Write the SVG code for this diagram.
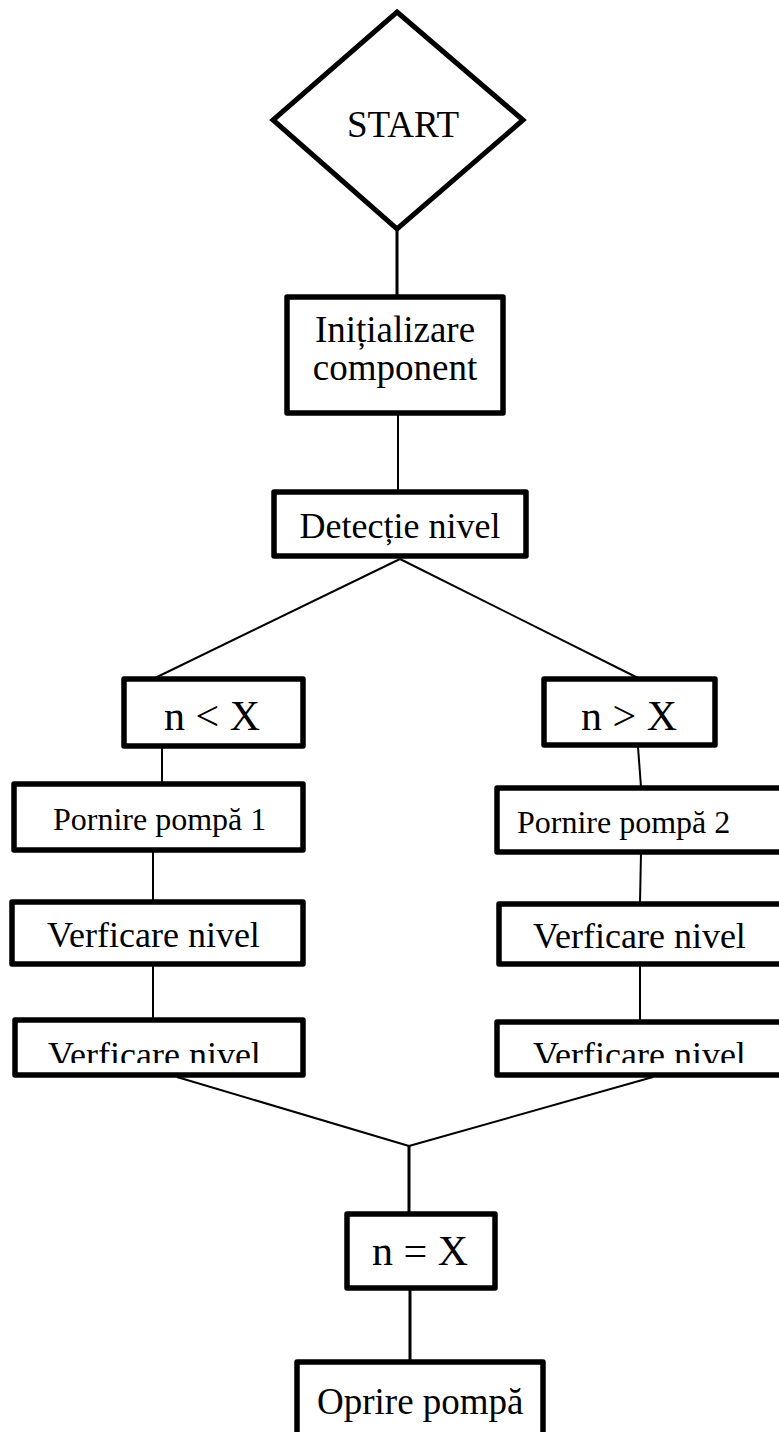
<svg xmlns="http://www.w3.org/2000/svg" width="779" height="1432" viewBox="0 0 779 1432">
  <style>
    .box { fill: #fff; stroke: #000; stroke-width: 5.5; stroke-linejoin: round; }
    .dia { fill: #fff; stroke: #000; stroke-width: 5; stroke-linejoin: miter; }
    text { font-family: 'Liberation Serif', 'Times New Roman', Times, serif; fill: #000; }
    .c { text-anchor: middle; }
    .ln { stroke: #000; fill: none; stroke-width: 2; }
    .lnb { stroke: #000; fill: none; stroke-width: 3; }
  </style>
  <defs>
    <clipPath id="clipL"><rect x="15" y="1020" width="288" height="43"/></clipPath>
    <clipPath id="clipR"><rect x="497" y="1022" width="290" height="41"/></clipPath>
  </defs>
  <rect width="779" height="1432" fill="#fff"/>
  <g id="connectors">
    <line class="lnb" x1="397" y1="229" x2="397" y2="295"/>
    <line class="ln" x1="398" y1="415" x2="398" y2="490"/>
    <line class="ln" x1="400" y1="559" x2="155" y2="678"/>
    <line class="ln" x1="400" y1="559" x2="638" y2="678"/>
    <line class="ln" x1="162" y1="748" x2="162" y2="782"/>
    <line class="ln" x1="153" y1="852" x2="153" y2="900"/>
    <line class="ln" x1="153" y1="965" x2="153" y2="1018"/>
    <line class="ln" x1="638" y1="747" x2="641" y2="787"/>
    <line class="ln" x1="641" y1="853" x2="640" y2="902"/>
    <line class="ln" x1="640" y1="965" x2="640" y2="1020"/>
    <line class="ln" x1="177" y1="1077" x2="409" y2="1146"/>
    <line class="ln" x1="653" y1="1077" x2="409" y2="1146"/>
    <line class="lnb" x1="409" y1="1146" x2="409" y2="1212"/>
    <line class="lnb" x1="410" y1="1290" x2="410" y2="1360"/>
  </g>
  <g id="start">
    <polygon class="dia" points="397,12 523,120 397,229 273,120"/>
    <text class="c" x="403" y="137" font-size="37" font-family="Liberation Serif, serif">START</text>
  </g>
  <g id="init">
    <rect class="box" x="287" y="297" width="216" height="116"/>
    <text class="c" x="395" y="342" font-size="37" font-family="Liberation Serif, serif">Inițializare</text>
    <text class="c" x="395" y="380" font-size="37" font-family="Liberation Serif, serif">component</text>
  </g>
  <g id="detect">
    <rect class="box" x="274" y="492" width="252" height="64"/>
    <text class="c" x="400" y="538" font-size="36" font-family="Liberation Serif, serif">Detecție nivel</text>
  </g>
  <g id="lt">
    <rect class="box" x="124" y="679" width="179" height="67"/>
    <text class="c" x="212" y="730" font-size="42" font-family="Liberation Serif, serif">n &lt; X</text>
  </g>
  <g id="gt">
    <rect class="box" x="544" y="679" width="171" height="66"/>
    <text class="c" x="629" y="730" font-size="42" font-family="Liberation Serif, serif">n &gt; X</text>
  </g>
  <g id="pornire1">
    <rect class="box" x="14" y="784" width="289" height="66"/>
    <text x="53" y="830" font-size="32" font-family="Liberation Serif, serif">Pornire pompă 1</text>
  </g>
  <g id="pornire2">
    <rect class="box" x="497" y="788" width="290" height="64"/>
    <text x="517" y="833" font-size="32" font-family="Liberation Serif, serif">Pornire pompă 2</text>
  </g>
  <g id="verifL1">
    <rect class="box" x="12" y="902" width="291" height="62"/>
    <text x="47" y="947" font-size="36" font-family="Liberation Serif, serif">Verficare nivel</text>
  </g>
  <g id="verifR1">
    <rect class="box" x="499" y="904" width="290" height="60"/>
    <text x="533" y="948" font-size="36" font-family="Liberation Serif, serif">Verficare nivel</text>
  </g>
  <g id="verifL2">
    <rect class="box" x="15" y="1020" width="288" height="55"/>
    <text x="48" y="1067" font-size="36" font-family="Liberation Serif, serif" clip-path="url(#clipL)">Verficare nivel</text>
  </g>
  <g id="verifR2">
    <rect class="box" x="497" y="1022" width="290" height="53"/>
    <text x="533" y="1067" font-size="36" font-family="Liberation Serif, serif" clip-path="url(#clipR)">Verficare nivel</text>
  </g>
  <g id="eq">
    <rect class="box" x="347" y="1214" width="148" height="74"/>
    <text class="c" x="420" y="1265" font-size="42" font-family="Liberation Serif, serif">n = X</text>
  </g>
  <g id="oprire">
    <rect class="box" x="297" y="1362" width="246" height="80"/>
    <text x="317" y="1414" font-size="37" font-family="Liberation Serif, serif">Oprire pompă</text>
  </g>
</svg>
